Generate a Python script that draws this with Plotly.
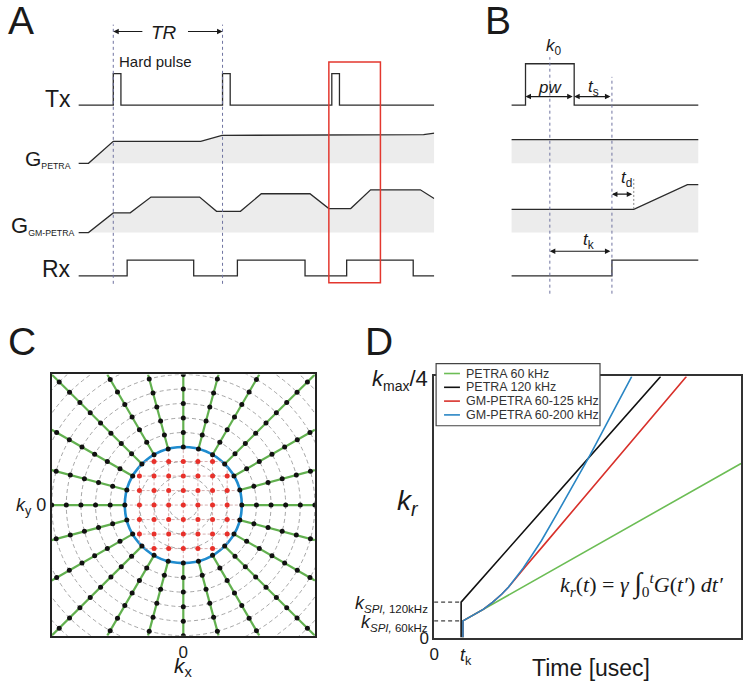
import math
import plotly.graph_objects as go

W, H = 750, 690
FONT = "Arial, Liberation Sans, sans-serif"
SERIF = "Liberation Serif, Times New Roman, serif"
LINE = "#2b2b2b"
FILL = "#ececec"
GUIDE = "#6f73a0"

# ==========================================
# DATA
# ==========================================

# Panel A - pulse sequence, time in a.u. (TR = 100)
a_tx_t = [-32, 0, 0, 7, 7, 100, 100, 107, 107, 200, 200, 207, 207, 294]
a_tx_v = [0, 0, 1, 1, 0, 0, 1, 1, 0, 0, 1, 1, 0, 0]
a_gp_t = [-32, -22.7, 0, 80, 99.5, 183, 197, 284, 294]
a_gp_v = [0, 0, 1.0, 1.0, 1.27, 1.27, 1.30, 1.30, 1.37]
a_gm_t = [-32, -22.7, 0, 15.5, 34.5, 79, 94.5, 116.4, 135.5, 180, 197.3, 217.3, 235.5, 281, 294]
a_gm_v = [0, 0, 1.0, 1.0, 1.8, 1.8, 1.08, 1.08, 1.97, 1.97, 1.22, 1.22, 2.17, 2.17, 1.72]
a_rx_t = [-32, 12.7, 12.7, 73.6, 73.6, 113.6, 113.6, 175.5, 175.5, 213.6, 213.6, 274.5, 274.5, 294]
a_rx_v = [0, 0, 1, 1, 0, 0, 1, 1, 0, 0, 1, 1, 0, 0]
a_tr_marks = [0, 100]
a_zoom_window = [197.3, 244.5]

# Panel B - zoom of one TR
b_pw = [-24.5, 24.5]
b_tk_end = 62.5
b_td_end = 84.5
b_tx_t = [-40, -24.5, -24.5, 24.5, 24.5, 150]
b_tx_v = [0, 0, 1, 1, 0, 0]
b_gp_t = [-40, 150]
b_gp_v = [1, 1]
b_gm_t = [-40, 84.5, 138.5, 150]
b_gm_v = [1.18, 1.18, 2.43, 2.43]
b_rx_t = [-40, 62.5, 62.5, 150]
b_rx_v = [0, 0, 1, 1]

# Panel C - k-space sampling
box_half = 9
spi_radius = 4
ring_radii = [1, 2, 3, 4, 5, 6, 7, 8, 9, 10, 11, 12]
spoke_angles = [0, 15, 30, 45, 60, 75, 90, 105, 120, 135, 150, 165,
                180, 195, 210, 225, 240, 255, 270, 285, 300, 315, 330, 345]
spoke_dot_radii = [4, 5, 6, 7, 8, 9, 10, 11, 12]
grid_idx = [-3, -2, -1, 0, 1, 2, 3]

# Panel D - k-space trajectories
t_k = 44
k_spi_60 = 0.064
k_spi_120 = 0.136
petra60_t = [47, 47, 500]
petra60_k = [0, 0.064, 0.667]
petra120_t = [44, 44, 369]
petra120_k = [0, 0.136, 1.0]
gm125_t = [47, 47, 65, 80, 95, 110, 121, 131, 150, 180, 411]
gm125_k = [0, 0.064, 0.088, 0.108, 0.135, 0.166, 0.193, 0.222, 0.275, 0.358, 1.0]
gm200_t = [47, 47, 65, 80, 95, 110, 121, 131, 145, 160, 175, 200, 225, 252, 287, 322]
gm200_k = [0, 0.064, 0.088, 0.108, 0.135, 0.166, 0.193, 0.222, 0.266, 0.318, 0.372,
           0.474, 0.578, 0.690, 0.845, 1.0]
d_names = ["PETRA 60 kHz", "PETRA 120 kHz", "GM-PETRA 60-125 kHz", "GM-PETRA 60-200 kHz"]
d_colors = ["#6cbd55", "#111111", "#d8312b", "#2a86c4"]


def px(x):
    return x / W


def py(y):
    return 1 - y / H


def row_axis(top, bottom, base, unit, anchor):
    # invisible y axis for one waveform row, base/unit in pixels
    return dict(domain=[py(bottom), py(top)],
                range=[(base - bottom) / unit, (base - top) / unit],
                visible=False, fixedrange=True, anchor=anchor)


fig = go.Figure()


def wave(t, v, xa, ya, fill=False):
    fig.add_trace(go.Scatter(
        x=t, y=v, xaxis=xa, yaxis=ya, mode="lines",
        line=dict(color=LINE, width=1.3),
        fill="tozeroy" if fill else None, fillcolor=FILL,
        hoverinfo="skip"
    ))


# ==========================================
# PANEL A / B WAVEFORMS
# ==========================================
wave(a_tx_t, a_tx_v, "x", "y")
wave(a_gp_t, a_gp_v, "x", "y2", fill=True)
wave(a_gm_t, a_gm_v, "x", "y3", fill=True)
wave(a_rx_t, a_rx_v, "x", "y4")

wave(b_tx_t, b_tx_v, "x2", "y5")
wave(b_gp_t, b_gp_v, "x2", "y6", fill=True)
wave(b_gm_t, b_gm_v, "x2", "y7", fill=True)
wave(b_rx_t, b_rx_v, "x2", "y8")

# ==========================================
# PANEL C
# ==========================================
sx, sy, dx, dy = [], [], [], []
for a in spoke_angles:
    c, s = math.cos(math.radians(a)), math.sin(math.radians(a))
    r_edge = box_half / max(abs(c), abs(s))
    sx += [spi_radius * c, r_edge * c, None]
    sy += [spi_radius * s, r_edge * s, None]
    for r in spoke_dot_radii:
        if r <= r_edge + 1e-6:
            dx.append(r * c)
            dy.append(r * s)

lx, ly = [], []
for j in grid_idx:
    half = math.sqrt(spi_radius ** 2 - j ** 2)
    lx += [-half, half, None, j, j, None]
    ly += [j, j, None, -half, half, None]
fig.add_trace(go.Scatter(x=lx, y=ly, xaxis="x3", yaxis="y9", mode="lines",
                         line=dict(color="#c99a9a", width=0.8, dash="3px,2px"),
                         hoverinfo="skip"))

gx = [i for i in grid_idx for j in grid_idx if i * i + j * j < spi_radius ** 2]
gy = [j for i in grid_idx for j in grid_idx if i * i + j * j < spi_radius ** 2]
fig.add_trace(go.Scatter(x=gx, y=gy, xaxis="x3", yaxis="y9", mode="markers",
                         marker=dict(color="#e8302a", size=5), hoverinfo="skip"))

fig.add_trace(go.Scatter(x=sx, y=sy, xaxis="x3", yaxis="y9", mode="lines",
                         line=dict(color="#62b04f", width=2.2), hoverinfo="skip"))
fig.add_trace(go.Scatter(x=dx, y=dy, xaxis="x3", yaxis="y9", mode="markers",
                         marker=dict(color="#111111", size=5), hoverinfo="skip"))

# ==========================================
# PANEL D
# ==========================================
for t, k, name, col in zip([petra60_t, petra120_t, gm125_t, gm200_t],
                           [petra60_k, petra120_k, gm125_k, gm200_k],
                           d_names, d_colors):
    fig.add_trace(go.Scatter(x=t, y=k, xaxis="x4", yaxis="y10", mode="lines",
                             name=name, line=dict(color=col, width=1.6)))

# ==========================================
# SHAPES
# ==========================================
shapes = []
for m in a_tr_marks:
    shapes.append(dict(type="line", xref="x", yref="paper", x0=m, x1=m,
                       y0=py(288), y1=py(25),
                       line=dict(color=GUIDE, width=1, dash="3px,3px")))
shapes.append(dict(type="rect", xref="x", yref="paper",
                   x0=a_zoom_window[0], x1=a_zoom_window[1], y0=py(287), y1=py(63),
                   line=dict(color="#e3372e", width=1.5)))

shapes.append(dict(type="line", xref="x2", yref="paper", x0=0, x1=0, y0=py(298), y1=py(58),
                   line=dict(color=GUIDE, width=1, dash="3px,3px")))
shapes.append(dict(type="line", xref="x2", yref="paper", x0=b_tk_end, x1=b_tk_end,
                   y0=py(298), y1=py(78), line=dict(color=GUIDE, width=1, dash="3px,3px")))
shapes.append(dict(type="line", xref="x2", yref="paper", x0=b_td_end, x1=b_td_end,
                   y0=py(212), y1=py(180), line=dict(color="#888888", width=1, dash="2px,2px")))

for r in ring_radii:
    shapes.append(dict(type="circle", xref="x3", yref="y9", x0=-r, x1=r, y0=-r, y1=r,
                       layer="below", line=dict(color="#8f8f8f", width=0.8, dash="4px,3px")))
shapes.append(dict(type="circle", xref="x3", yref="y9", x0=-spi_radius, x1=spi_radius,
                   y0=-spi_radius, y1=spi_radius, layer="below",
                   line=dict(color="#1f8ccf", width=2.6)))

for k in [k_spi_120, k_spi_60]:
    shapes.append(dict(type="line", xref="x4", yref="y10", x0=0, x1=t_k, y0=k, y1=k,
                       line=dict(color="#111111", width=1, dash="4px,3px")))

# hand-made compact legend for panel D
shapes.append(dict(type="rect", xref="paper", yref="paper", x0=px(434), x1=px(599),
                   y0=py(432), y1=py(369), fillcolor="white",
                   line=dict(color="#444444", width=1.2)))
legend_rows = [379, 393, 407, 421]
for row, col in zip(legend_rows, d_colors):
    shapes.append(dict(type="line", xref="paper", yref="paper", x0=px(442), x1=px(458),
                       y0=py(row), y1=py(row), line=dict(color=col, width=1.6)))

# ==========================================
# ANNOTATIONS
# ==========================================
ann = []


def label(x, y, text, size, **kw):
    d = dict(xref="paper", yref="paper", x=px(x), y=py(y), text=text, showarrow=False,
             font=dict(family=kw.pop("family", FONT), size=size, color=kw.pop("color", "#1a1a1a")),
             xanchor=kw.pop("xanchor", "center"), yanchor=kw.pop("yanchor", "middle"))
    d.update(kw)
    ann.append(d)


def arrow(xref, x_head, x_tail, y, both=False):
    ann.append(dict(xref=xref, x=x_head, axref=xref, ax=x_tail,
                    yref="paper", y=py(y), ayref="pixel", ay=0, text="",
                    showarrow=True, arrowhead=2, arrowsize=1, arrowwidth=1.1,
                    arrowcolor="#1a1a1a", standoff=0, startstandoff=0,
                    arrowside="end+start" if both else "end"))


for letter, x, y in [("A", 16, 21), ("B", 496, 21), ("C", 17, 347), ("D", 377, 347)]:
    label(x, y, letter, 39)

# panel A
label(68, 100, "Tx", 23, xanchor="right")
label(68, 161, '<span style="font-size:21px">G</span><sub>PETRA</sub>', 12.5, xanchor="right")
label(71, 229, '<span style="font-size:22px">G</span><sub>GM-PETRA</sub>', 12.5, xanchor="right")
label(68, 273, "Rx", 23, xanchor="right")
label(113, 62, "Hard pulse", 15, xanchor="left")
label(160, 33, "<i>TR</i>", 19)
arrow("x", a_tr_marks[0], 28, 32)
arrow("x", a_tr_marks[1], 67, 32)

# panel B
label(553, 48, "<i>k</i><sub>0</sub>", 17)
label(549, 89, "<i>pw</i>", 17)
label(592, 89, "<i>t</i><sub>s</sub>", 17)
label(626, 182, "<i>t</i><sub>d</sub>", 17)
label(587, 245, "<i>t</i><sub>k</sub>", 17)
arrow("x2", b_pw[0], b_pw[1], 98, both=True)
arrow("x2", b_pw[1], b_tk_end, 98, both=True)
arrow("x2", b_tk_end, b_td_end, 197, both=True)
arrow("x2", 0, b_tk_end, 255, both=True)

# panel C axis title
label(180, 677, "<i>k</i><sub>x</sub>", 21)

# panel D
label(428, 386, '<i>k</i><sub><span style="font-size:14px">max</span></sub>/4', 22, xanchor="right")
label(428, 613, '<i>k</i><sub><span style="font-size:11.5px"><i>SPI,</i> 120kHz</span></sub>', 18,
      xanchor="right")
label(428, 632, '<i>k</i><sub><span style="font-size:11.5px"><i>SPI,</i> 60kHz</span></sub>', 18,
      xanchor="right")
label(406, 510, "<i>k<sub>r</sub></i>", 28)
label(464, 666, "<i>t</i><sub>k</sub>", 18)
label(590, 678, "Time [usec]", 23)
label(641, 592, '<i>k<sub>r</sub></i>(<i>t</i>) = <i>γ</i> <span style="font-size:28px">∫</span>'
      '<sub>0</sub><sup><i>t</i></sup><i>G</i>(<i>t′</i>) <i>dt′</i>', 22, family=SERIF)
for row, name in zip(legend_rows, d_names):
    label(462, row, name, 12.5, xanchor="left", color="#333333")

# ==========================================
# LAYOUT
# ==========================================
fig.update_layout(
    width=W, height=H,
    margin=dict(l=0, r=0, t=0, b=0),
    paper_bgcolor="white", plot_bgcolor="white",
    font=dict(family=FONT, color="#1a1a1a"),
    showlegend=False,
    shapes=shapes, annotations=ann,
    xaxis=dict(domain=[px(74), px(432)], range=[(74 - 109) / 1.1, (432 - 109) / 1.1],
               visible=False, anchor="y4"),
    yaxis=row_axis(60, 112, 106.7, 32, "x"),
    yaxis2=row_axis(125, 172, 165.7, 22.33, "x"),
    yaxis3=row_axis(180, 242, 236, 20, "x"),
    yaxis4=row_axis(255, 288, 280, 16, "x"),
    xaxis2=dict(domain=[px(510), px(698)], range=[-38.5, 149.5], visible=False, anchor="y8"),
    yaxis5=row_axis(55, 112, 106.7, 42, "x2"),
    yaxis6=row_axis(125, 172, 165.7, 24, "x2"),
    yaxis7=row_axis(180, 242, 236, 20, "x2"),
    yaxis8=row_axis(255, 288, 280, 16, "x2"),
    xaxis3=dict(domain=[px(47), px(312)], range=[-box_half, box_half], anchor="y9",
                showline=True, mirror=True, linecolor="#222", linewidth=1.6,
                showgrid=False, zeroline=False, ticks="", tickvals=[0], ticktext=["0"],
                tickfont=dict(size=17)),
    yaxis9=dict(domain=[py(645), py(380)], range=[-box_half, box_half], anchor="x3",
                showline=True, mirror=True, linecolor="#222", linewidth=1.6,
                showgrid=False, zeroline=False, ticks="", tickvals=[0],
                ticktext=["<i>k</i><sub>y</sub> 0"], tickfont=dict(size=18)),
    xaxis4=dict(domain=[px(432), px(741)], range=[0, 500], anchor="y10",
                showline=True, mirror=True, linecolor="#333", linewidth=1.5,
                showgrid=False, zeroline=False, ticks="", tickvals=[0, 500],
                ticktext=["0", "500"], tickfont=dict(size=17)),
    yaxis10=dict(domain=[py(647), py(382)], range=[0, 1], anchor="x4",
                 showline=True, mirror=True, linecolor="#333", linewidth=1.5,
                 showgrid=False, zeroline=False, ticks="", tickvals=[0],
                 ticktext=["0"], tickfont=dict(size=17)),
)

# page body margin would otherwise offset the 750x690 figure
fig.write_html("out.html", config={"displayModeBar": False},
               post_script="document.body.style.margin='0';")
